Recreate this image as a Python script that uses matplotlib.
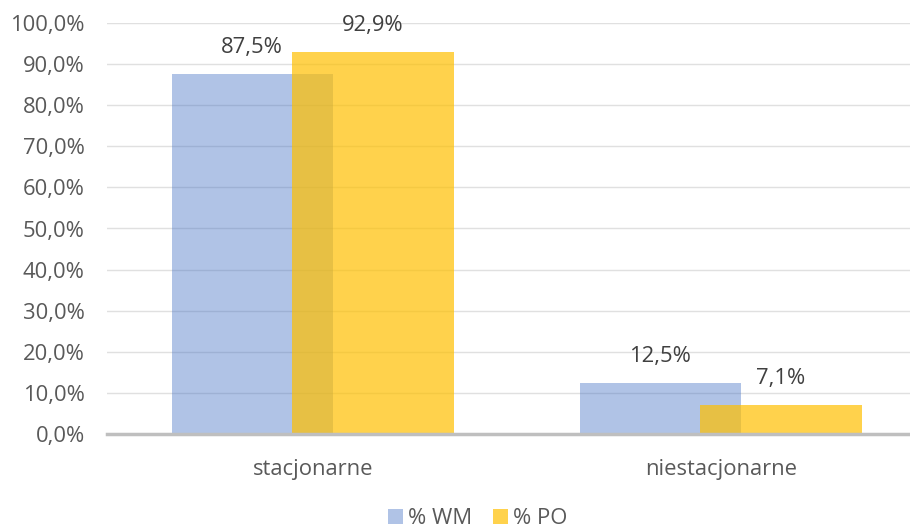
import matplotlib
matplotlib.use("Agg")
import matplotlib.pyplot as plt
from matplotlib.patches import Patch
import numpy as np

categories = ["stacjonarne", "niestacjonarne"]
series_names = ["% WM", "% PO"]
wm_values = [87.5, 12.5]
po_values = [92.9, 7.1]
y_ticks = [0, 10, 20, 30, 40, 50, 60, 70, 80, 90, 100]

BLUE = "#4472C4"
GOLD = "#FFC000"
TEXT = "#595959"
FS = 15.8

plt.rcParams['font.family'] = ['Open Sans', 'DejaVu Sans']


def pct(v):
    return f"{v:.1f}%".replace(".", ",")


fig = plt.figure(figsize=(9.1, 5.28), dpi=100)
ax = fig.add_axes([107 / 910, 94 / 528, 803 / 910, 411 / 528])

x = np.arange(len(categories))
width = 0.395
off = 0.148

ax.bar(x - off, wm_values, width, color=BLUE, alpha=0.42, zorder=2, linewidth=0)
ax.bar(x + off, po_values, width, color=GOLD, alpha=0.7, zorder=3, linewidth=0)

for xs, vals in [(x - off, wm_values), (x + off, po_values)]:
    for xi, v in zip(xs, vals):
        ax.annotate(pct(v), (xi, v), xytext=(0, 19), textcoords="offset points",
                    ha="center", va="center", fontsize=FS, color="#404040")

ax.set_xlim(-0.504, 1.464)
ax.set_ylim(0, 100)
ax.set_yticks(y_ticks)
ax.set_yticklabels([pct(t) for t in y_ticks], fontsize=FS, color=TEXT)
ax.set_xticks(x)
ax.set_xticklabels(categories, fontsize=FS, color=TEXT)
ax.tick_params(axis="both", length=0)
ax.tick_params(axis="y", pad=16)
ax.tick_params(axis="x", pad=18)

ax.grid(axis="y", color="#E0E0E0", linewidth=1, zorder=0)
for s in ["top", "right", "left"]:
    ax.spines[s].set_visible(False)
ax.spines["bottom"].set_color("#BFBFBF")
ax.spines["bottom"].set_linewidth(2.5)
ax.spines["bottom"].set_zorder(4)

handles = [Patch(facecolor=BLUE, alpha=0.42, linewidth=0),
           Patch(facecolor=GOLD, alpha=0.7, linewidth=0)]
fig.legend(handles, series_names, loc="center", bbox_to_anchor=(478 / 910, 1 - 519 / 528),
           ncol=2, frameon=False, fontsize=FS, labelcolor=TEXT, borderpad=0,
           handlelength=0.66, handleheight=0.66, handletextpad=0.25, columnspacing=0.95)

fig.savefig("out.png", dpi=100)
